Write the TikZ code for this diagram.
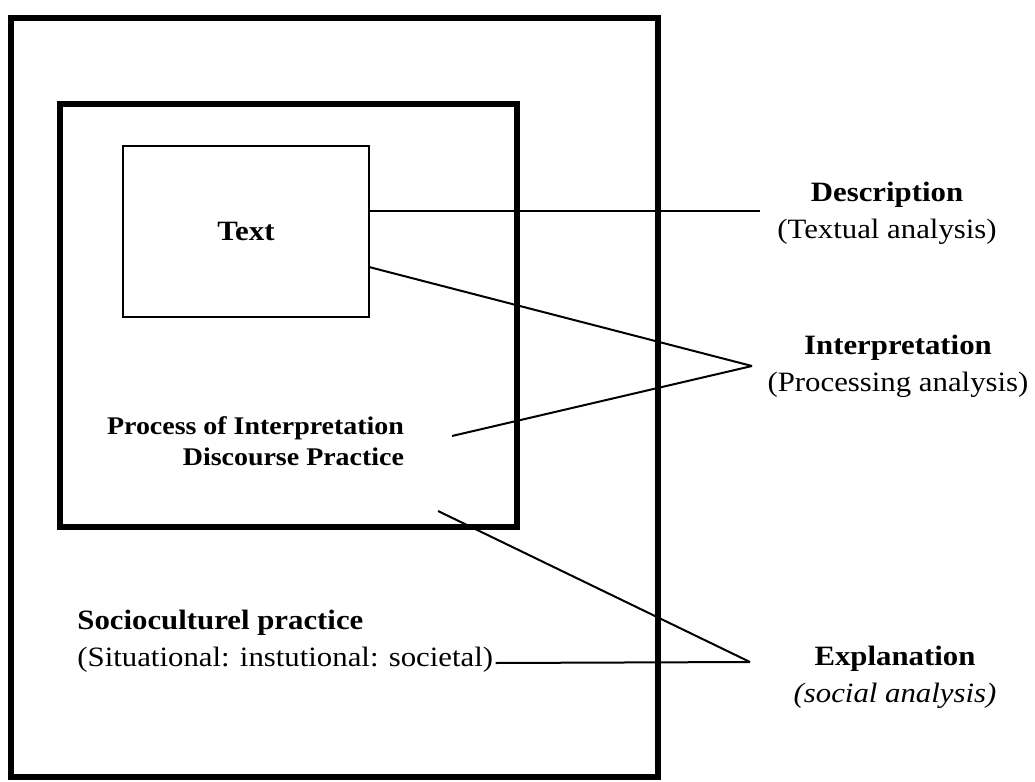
\documentclass[tikz,border=0pt]{standalone}
\usepackage{fontspec}
\setmainfont[FakeStretch=1.1]{Liberation Serif}
\usetikzlibrary{calc}
\begin{document}
\begin{tikzpicture}[x=0.5pt,y=-0.5pt,
  thickbox/.style={draw, line width=2.75pt, inner sep=0pt, outer sep=0pt},
  thinbox/.style={draw, line width=1.1pt, inner sep=0pt, outer sep=0pt},
  conn/.style={line width=1pt},
  lbl/.style={inner sep=0pt, font=\fontsize{14}{18.5}\selectfont},
  rlbl/.style={lbl, align=center}]
\useasboundingbox (0,0) rectangle (1035,782);
% frames
\node[thickbox, minimum width=323.5pt, minimum height=379.5pt] (outer) at (334.5,397.5) {};
\node[thickbox, minimum width=228.5pt, minimum height=211.5pt] (inner) at (288.5,315.5) {};
\node[thinbox, minimum width=123pt, minimum height=85.5pt, font=\fontsize{14}{18.5}\selectfont\bfseries] (textbox) at (246,231.5) {Text};
% inner labels
\node[lbl, align=right, font=\fontsize{12.7}{15.5}\selectfont\bfseries] (process) at (255.5,441.5) {Process of Interpretation\\Discourse Practice};
\node[lbl, anchor=west, font=\fontsize{14}{18.5}\selectfont\bfseries] (socio1) at (77,623) {Socioculturel practice};
\node[lbl, anchor=west] (socio2) at (77,660) {(Situational: instutional: societal)};
% right labels
\node[rlbl] (descr) at (887,213.5) {\textbf{Description}\\(Textual analysis)};
\node[rlbl] (interp) at (898,366) {\textbf{Interpretation}\\(Processing analysis)};
\node[rlbl] (expl) at (895,677) {\textbf{Explanation}\\\textit{(social analysis)}};
% connector points
\coordinate (dconv) at (760,211);
\coordinate (iconv) at (752,366);
\coordinate (econv) at (750,662);
\coordinate (pstart) at (452,436);
\coordinate (estart) at (438,511);
% connectors
\draw[conn] (textbox.east |- dconv) -- (dconv);
\draw[conn] ($(textbox.south east)+(0,-50)$) -- (iconv);
\draw[conn] (pstart) -- (iconv);
\draw[conn] (estart) -- (econv);
\draw[conn] ($(socio2.east)+(2,3)$) -- (econv);
\end{tikzpicture}
\end{document}
